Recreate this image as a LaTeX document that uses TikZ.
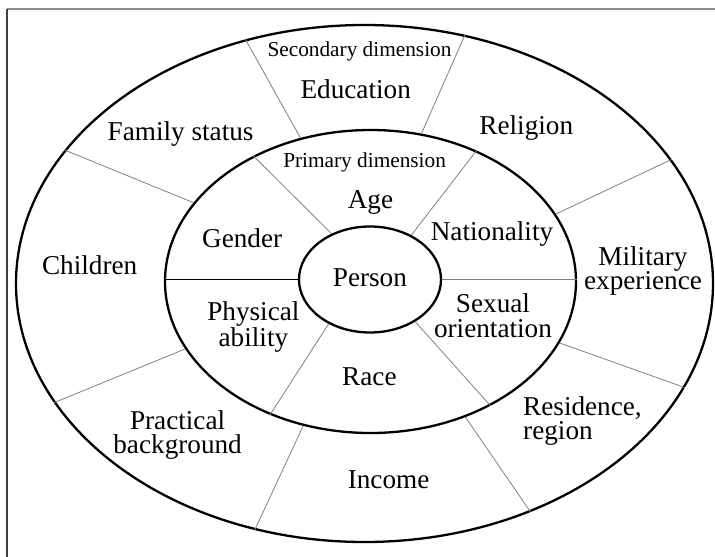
\documentclass[tikz,border=0pt]{standalone}
\usepackage{fontspec}
\setmainfont{Liberation Serif}
\usetikzlibrary{shapes.geometric}

\begin{document}
\begin{tikzpicture}[x=1pt,y=-1pt,
  ring/.style={ellipse, draw=black, line width=2.3pt, inner sep=0pt},
  spoke/.style={draw=black!50, line width=0.8pt},
  divider/.style={draw=black, line width=1pt},
  label/.style={font=\fontsize{27.2}{24.2}\selectfont, inner sep=0pt, text=black},
  small/.style={font=\fontsize{21.3}{24}\selectfont, inner sep=0pt, text=black}]

\useasboundingbox (0,0) rectangle (715,557);

% page frame (top and left edges only)
\draw[draw=black!45, line width=2pt] (7,9) -- (715,9);
\draw[draw=black!75, line width=2pt] (7,9) -- (7,557);

% the three rings
\node[ring, minimum width=697pt, minimum height=517pt] (outer) at (364.5,283.5) {};
\node[ring, minimum width=411pt, minimum height=303pt] (mid) at (370.5,281.5) {};
\node[ring, minimum width=142pt, minimum height=106pt] (core) at (370,279.5) {};

% primary dimension sectors
\draw[divider] (core.west) -- (core.west -| mid.west);
\draw[spoke] (core.east) -- (core.east -| mid.east);
\draw[spoke] (core.130.3) -- (mid.133.3);
\draw[spoke] (core.47.7) -- (mid.51.6);
\draw[spoke] (core.227.7) -- (mid.233.2);
\draw[spoke] (core.317) -- (mid.314.8);

% secondary dimension sectors
\draw[spoke] (mid.116.9) -- (outer.116.8);
\draw[spoke] (mid.71.7) -- (outer.68.1);
\draw[spoke] (mid.156.8) -- (outer.156.9);
\draw[spoke] (mid.20.1) -- (outer.22.1);
\draw[spoke] (mid.342.7) -- (outer.342.6);
\draw[spoke] (mid.200.9) -- (outer.201.6);
\draw[spoke] (mid.245.5) -- (outer.246.4);
\draw[spoke] (mid.305.6) -- (outer.306.8);

% labels
\node[small, anchor=base] (secdim) at (359.5,56) {Secondary dimension};
\node[label, anchor=base] (educ) at (355.7,98.8) {Education};
\node[label, anchor=base] (famst) at (180.6,140.7) {Family status};
\node[label, anchor=base] (relig) at (526.3,134.3) {Religion};
\node[small, anchor=base] (primdim) at (364.6,167) {Primary dimension};
\node[label, anchor=base] (age) at (370.5,208.5) {Age};
\node[label, anchor=base] (gender) at (242.2,247.6) {Gender};
\node[label, anchor=base] (nation) at (492,240) {Nationality};
\node[label, anchor=base] (child) at (89.7,274.6) {Children};
\node[label, anchor=base] (person) at (369.9,286) {Person};
\node[label, align=center] (milit) at (643,271) {Military\\experience};
\node[label, align=center] (sexor) at (493,315.7) {Sexual\\orientation};
\node[label, align=center] (phys) at (253.4,326.9) {Physical\\ability};
\node[label, anchor=base] (race) at (369.4,385.8) {Race};
\node[label, align=center] (pract) at (177.6,434.8) {Practical\\background};
\node[label, align=left, anchor=west] (resid) at (523,420.7) {Residence,\\region};
\node[label, anchor=base] (income) at (388.6,488.8) {Income};

\end{tikzpicture}
\end{document}
